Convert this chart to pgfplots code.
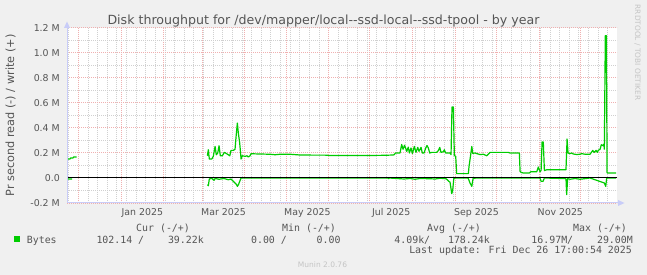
\documentclass[border=0pt]{standalone}
\usepackage{fontspec}
\setmainfont{DejaVu Sans}
\newfontfamily\monofont{DejaVu Sans Mono}
\usepackage{pgfplots}
\usepackage{pgfplotstable}
\pgfplotsset{compat=1.18}
\definecolor{bgc}{HTML}{F0F0F0}
\definecolor{txt}{HTML}{555555}
\definecolor{grn}{HTML}{00CC00}
\definecolor{mingrid}{HTML}{D0D0D0}
\definecolor{majgrid}{HTML}{F0B0B0}
\definecolor{axc}{HTML}{C8CCF8}
\definecolor{wm}{HTML}{C4C4C4}
\newcommand\legfont{\monofont\fontsize{9.9bp}{12bp}\selectfont}

% x = days since 2025-01-01, y = bytes per second in millions
\pgfplotstableread{
x y
-39.3 0.152
-37.1 0.152
-36.7 0.160
-34.9 0.160
-34.5 0.168
-32.3 0.168
-32.0 nan
62.8 0.178
63.5 0.226
64.2 0.152
66.0 0.152
67.1 0.173
68.4 0.253
69.3 0.186
70.3 0.199
71.3 0.258
72.2 0.178
73.7 0.178
75.1 0.205
76.9 0.194
78.0 0.186
79.1 0.178
80.0 0.221
81.7 0.221
82.9 0.230
83.9 0.360
84.6 0.440
85.3 0.360
86.3 0.280
87.3 0.152
88.2 0.178
90.2 0.173
91.6 0.178
92.6 0.168
93.8 0.178
94.5 0.194
101.1 0.192
108.4 0.190
112.0 0.186
115.6 0.190
122.9 0.190
130.2 0.184
140.0 0.183
148.4 0.183
152.0 0.180
173.8 0.180
188.4 0.181
195.6 0.183
198.5 0.185
199.6 0.200
202.9 0.200
204.1 0.268
205.1 0.230
206.2 0.262
207.8 0.213
208.9 0.247
209.7 0.200
210.9 0.240
211.9 0.195
213.3 0.253
214.5 0.205
215.8 0.245
216.7 0.213
218.2 0.245
219.1 0.200
220.4 0.200
221.6 0.240
222.5 0.260
223.5 0.240
224.5 0.200
226.0 0.205
229.6 0.205
230.8 0.220
231.8 0.245
232.7 0.205
234.4 0.210
235.1 0.226
236.1 0.200
239.3 0.200
240.0 0.187
240.7 0.568
241.7 0.568
242.4 0.180
243.4 0.173
244.1 0.035
252.6 0.035
253.1 0.093
254.3 0.187
255.1 0.253
255.8 0.197
257.5 0.200
261.1 0.187
263.5 0.190
266.0 0.178
267.1 0.190
268.4 0.205
281.7 0.205
282.9 0.200
289.7 0.200
290.2 0.053
290.9 0.045
292.6 0.040
297.0 0.040
298.0 0.050
302.3 0.050
303.5 0.088
304.7 0.050
305.5 0.060
306.2 0.288
307.1 0.288
307.9 0.060
309.6 0.066
323.6 0.066
324.4 0.312
325.1 0.200
326.5 0.195
327.8 0.200
328.9 0.192
331.4 0.188
333.8 0.190
335.0 0.195
337.5 0.190
341.1 0.190
343.1 0.221
344.0 0.205
345.5 0.221
346.4 0.205
347.1 0.221
348.4 0.230
349.3 0.266
350.3 0.258
351.1 0.270
351.5 0.230
352.2 1.138
353.0 1.138
353.5 0.040
360.0 0.040
}\writedata

\pgfplotstableread{
x y
-38.5 -0.008
-35.6 -0.008
-35.0 nan
62.8 -0.054
63.5 -0.062
64.2 -0.008
66.0 -0.002
67.6 -0.019
68.4 -0.004
71.3 -0.010
74.9 -0.004
78.0 -0.014
80.0 -0.008
82.4 -0.035
83.9 -0.051
84.6 -0.067
85.5 -0.051
86.3 -0.027
87.3 0.000
194.2 0.000
194.6 -0.005
195.0 0.000
205.8 -0.008
210.2 -0.004
213.8 -0.010
217.5 -0.004
224.7 -0.006
228.4 -0.008
232.0 -0.002
236.4 -0.006
239.3 -0.035
240.5 -0.125
241.2 -0.100
242.0 -0.004
242.9 0.000
252.4 0.000
253.8 -0.040
255.1 -0.067
256.0 -0.005
258.2 0.000
304.7 0.000
305.5 -0.027
306.9 -0.027
307.9 0.000
323.6 -0.005
324.1 -0.133
324.8 -0.005
326.5 -0.010
330.2 -0.004
333.8 -0.010
341.1 0.000
351.5 -0.040
352.5 -0.067
353.2 0.000
360.0 0.000
}\readdata

\begin{document}
\begin{tikzpicture}
\fill[bgc] (0,0) rectangle (647bp,275bp);
\useasboundingbox (0,0) rectangle (647bp,275bp);
\begin{axis}[
  at={(67bp,72bp)}, anchor=south west,
  width=550bp, height=175bp, scale only axis,
  xmin=-39.3, xmax=360.7, ymin=-0.2, ymax=1.2,
  axis line style={draw=none},
  axis background/.style={fill=white},
  xtick={-31,0,31,59,90,120,151,181,212,243,273,304,334},
  xticklabels={},
  minor xtick={-38,-31,...,354},
  ytick={-0.2,0,0.2,0.4,0.6,0.8,1.0,1.2},
  yticklabels={-0.2 M,0.0,0.2 M,0.4 M,0.6 M,0.8 M,1.0 M,1.2 M},
  minor ytick={-0.1,0.1,0.3,0.5,0.7,0.9,1.1},
  grid=both,
  major grid style={majgrid, line width=1bp, dash pattern=on 1bp off 1bp},
  minor grid style={mingrid, line width=1bp, dash pattern=on 1bp off 1bp},
  major tick length=0pt, minor tick length=0pt,
  tick style={draw=none},
  extra x ticks={15.5,74.5,135.5,196.5,258.5,319.5},
  extra x tick labels={Jan 2025,Mar 2025,May 2025,Jul 2025,Sep 2025,Nov 2025},
  extra x tick style={grid=none},
  xticklabel style={anchor=base, inner sep=0pt, yshift=-12.2bp,
    font=\fontsize{9.4bp}{11bp}\selectfont, text=txt},
  yticklabel style={anchor=east, inner sep=0pt, xshift=-7bp,
    font=\fontsize{9.4bp}{11bp}\selectfont, text=txt},
  unbounded coords=jump,
]
\addplot[grn, line width=1.2bp, line join=round] table[x=x,y=y]{\writedata};
\addplot[grn, line width=1.2bp, line join=round] table[x=x,y=y]{\readdata};
\addplot[black, line width=1bp] coordinates {(-39.3,0) (360.7,0)};
\end{axis}
% axes with arrows
\draw[axc, line width=1bp] (67bp,72bp) -- (67bp,247bp);
\fill[axc] (64bp,247bp) -- (70bp,247bp) -- (67bp,253.5bp) -- cycle;
\draw[axc, line width=1bp] (67bp,72bp) -- (618bp,72bp);
\fill[axc] (618bp,69bp) -- (618bp,75bp) -- (624.5bp,72bp) -- cycle;
% title and labels
\node[anchor=base, inner sep=0pt, font=\fontsize{12.6bp}{14bp}\selectfont, text=txt]
  at (323.5bp,250.8bp) {Disk throughput for /dev/mapper/local-{}-ssd-local-{}-ssd-tpool - by year};
\node[rotate=90, inner sep=0pt, font=\fontsize{11.3bp}{13bp}\selectfont, text=txt]
  at (10.5bp,159.5bp) {Pr second read (-) / write (+)};
\node[rotate=-90, inner sep=0pt, font=\fontsize{7.4bp}{9bp}\selectfont, text=wm]
  at (637.5bp,222.5bp) {RRDTOOL / TOBI OETIKER};
\node[anchor=base, inner sep=0pt, font=\fontsize{7.5bp}{9bp}\selectfont, text=wm]
  at (322.5bp,7.9bp) {Munin 2.0.76};
% legend
\node[anchor=base west, inner sep=0pt, font=\legfont, text=txt] at (136bp,43.8bp) {Cur (-/+)};
\node[anchor=base west, inner sep=0pt, font=\legfont, text=txt] at (282bp,43.8bp) {Min (-/+)};
\node[anchor=base west, inner sep=0pt, font=\legfont, text=txt] at (427bp,43.8bp) {Avg (-/+)};
\node[anchor=base west, inner sep=0pt, font=\legfont, text=txt] at (573bp,43.8bp) {Max (-/+)};
\fill[grn] (14bp,32.5bp) rectangle (20bp,38.5bp);
\node[anchor=base west, inner sep=0pt, font=\legfont, text=txt] at (26.7bp,31.8bp) {Bytes};
\node[anchor=base east, inner sep=0pt, font=\legfont, text=txt] at (204bp,31.8bp) {102.14~/~~~~39.22k};
\node[anchor=base east, inner sep=0pt, font=\legfont, text=txt] at (340.7bp,31.8bp) {0.00~/~~~~~0.00};
\node[anchor=base east, inner sep=0pt, font=\legfont, text=txt] at (490bp,31.8bp) {4.09k/~~~178.24k};
\node[anchor=base east, inner sep=0pt, font=\legfont, text=txt] at (633bp,31.8bp) {16.97M/~~~~29.00M};
\node[anchor=base east, inner sep=0pt, font=\legfont, text=txt] at (632bp,21.1bp) {Last update: Fri Dec 26 17:00:54 2025};
\end{tikzpicture}
\end{document}
